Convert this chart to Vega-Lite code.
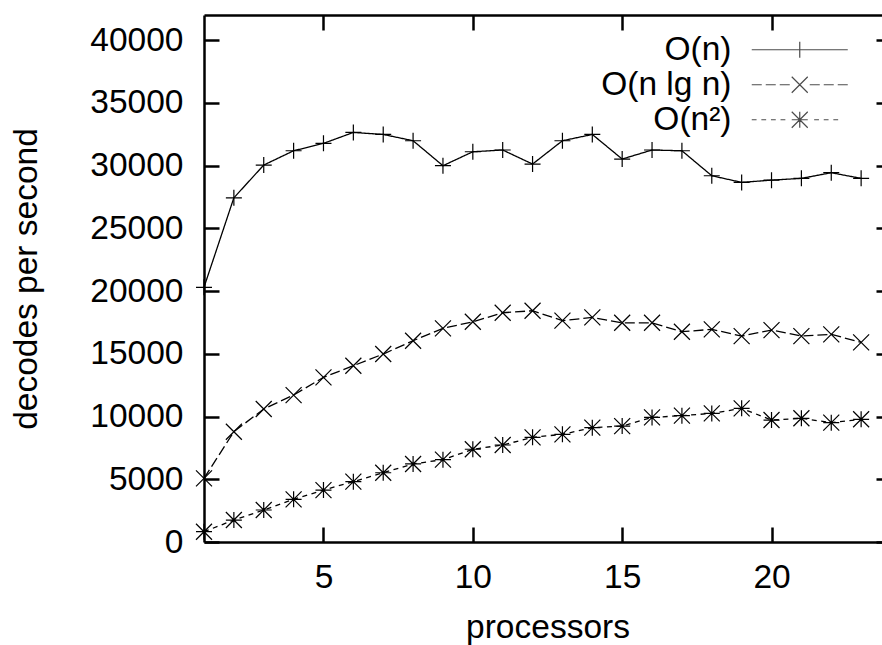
{
  "$schema": "https://vega.github.io/schema/vega-lite/v6.json",
  "autosize": {"type": "none"},
  "width": 678,
  "height": 527,
  "padding": {"left": 204, "top": 15, "right": 0, "bottom": 103},
  "background": "white",
  "config": {
    "view": {"stroke": null},
    "font": "Liberation Sans",
    "axis": {
      "domainColor": "black",
      "domainWidth": 2.5,
      "tickColor": "black",
      "tickWidth": 2.5,
      "tickSize": -15,
      "grid": false,
      "labelFont": "Liberation Sans",
      "labelFontSize": 33.5,
      "labelColor": "black",
      "titleFont": "Liberation Sans",
      "titleFontSize": 33.5,
      "titleFontWeight": "normal",
      "titleColor": "black"
    },
    "legend": {
      "orient": "none",
      "legendX": 579,
      "legendY": 18,
      "title": null,
      "labelAlign": "right",
      "labelOffset": -85,
      "labelFont": "Liberation Sans",
      "labelFontSize": 33.5,
      "labelColor": "black",
      "labelLimit": 400,
      "symbolSize": 256,
      "symbolStrokeWidth": 1.2,
      "symbolStrokeColor": "black",
      "symbolFillColor": "transparent",
      "rowPadding": 0
    }
  },
  "data": {
    "values": [
      {"p": 1, "s": "O(n)", "v": 20300}, {"p": 2, "s": "O(n)", "v": 27430}, {"p": 3, "s": "O(n)", "v": 30040},
      {"p": 4, "s": "O(n)", "v": 31180}, {"p": 5, "s": "O(n)", "v": 31770}, {"p": 6, "s": "O(n)", "v": 32640},
      {"p": 7, "s": "O(n)", "v": 32480}, {"p": 8, "s": "O(n)", "v": 31980}, {"p": 9, "s": "O(n)", "v": 29990},
      {"p": 10, "s": "O(n)", "v": 31100}, {"p": 11, "s": "O(n)", "v": 31240}, {"p": 12, "s": "O(n)", "v": 30120},
      {"p": 13, "s": "O(n)", "v": 31980}, {"p": 14, "s": "O(n)", "v": 32480}, {"p": 15, "s": "O(n)", "v": 30520},
      {"p": 16, "s": "O(n)", "v": 31240}, {"p": 17, "s": "O(n)", "v": 31180}, {"p": 18, "s": "O(n)", "v": 29190},
      {"p": 19, "s": "O(n)", "v": 28660}, {"p": 20, "s": "O(n)", "v": 28840}, {"p": 21, "s": "O(n)", "v": 28980},
      {"p": 22, "s": "O(n)", "v": 29430}, {"p": 23, "s": "O(n)", "v": 28980},
      {"p": 1, "s": "O(n lg n)", "v": 5070}, {"p": 2, "s": "O(n lg n)", "v": 8790}, {"p": 3, "s": "O(n lg n)", "v": 10600},
      {"p": 4, "s": "O(n lg n)", "v": 11710}, {"p": 5, "s": "O(n lg n)", "v": 13120}, {"p": 6, "s": "O(n lg n)", "v": 14050},
      {"p": 7, "s": "O(n lg n)", "v": 14980}, {"p": 8, "s": "O(n lg n)", "v": 16040}, {"p": 9, "s": "O(n lg n)", "v": 17030},
      {"p": 10, "s": "O(n lg n)", "v": 17550}, {"p": 11, "s": "O(n lg n)", "v": 18270}, {"p": 12, "s": "O(n lg n)", "v": 18430},
      {"p": 13, "s": "O(n lg n)", "v": 17640}, {"p": 14, "s": "O(n lg n)", "v": 17900}, {"p": 15, "s": "O(n lg n)", "v": 17470},
      {"p": 16, "s": "O(n lg n)", "v": 17470}, {"p": 17, "s": "O(n lg n)", "v": 16760}, {"p": 18, "s": "O(n lg n)", "v": 16950},
      {"p": 19, "s": "O(n lg n)", "v": 16410}, {"p": 20, "s": "O(n lg n)", "v": 16890}, {"p": 21, "s": "O(n lg n)", "v": 16410},
      {"p": 22, "s": "O(n lg n)", "v": 16550}, {"p": 23, "s": "O(n lg n)", "v": 15910},
      {"p": 1, "s": "O(n²)", "v": 820}, {"p": 2, "s": "O(n²)", "v": 1750}, {"p": 3, "s": "O(n²)", "v": 2550},
      {"p": 4, "s": "O(n²)", "v": 3400}, {"p": 5, "s": "O(n²)", "v": 4140}, {"p": 6, "s": "O(n²)", "v": 4810},
      {"p": 7, "s": "O(n²)", "v": 5520}, {"p": 8, "s": "O(n²)", "v": 6220}, {"p": 9, "s": "O(n²)", "v": 6560},
      {"p": 10, "s": "O(n²)", "v": 7390}, {"p": 11, "s": "O(n²)", "v": 7730}, {"p": 12, "s": "O(n²)", "v": 8340},
      {"p": 13, "s": "O(n²)", "v": 8580}, {"p": 14, "s": "O(n²)", "v": 9110}, {"p": 15, "s": "O(n²)", "v": 9240},
      {"p": 16, "s": "O(n²)", "v": 9930}, {"p": 17, "s": "O(n²)", "v": 10070}, {"p": 18, "s": "O(n²)", "v": 10250},
      {"p": 19, "s": "O(n²)", "v": 10650}, {"p": 20, "s": "O(n²)", "v": 9720}, {"p": 21, "s": "O(n²)", "v": 9860},
      {"p": 22, "s": "O(n²)", "v": 9510}, {"p": 23, "s": "O(n²)", "v": 9780}
    ]
  },
  "layer": [
    {
      "mark": {"type": "line", "color": "black", "strokeWidth": 1.3},
      "encoding": {
        "x": {"field": "p", "type": "quantitative", "scale": {"domain": [1, 24], "range": [0, 687], "nice": false, "zero": false},
              "axis": {"orient": "bottom", "values": [5, 10, 15, 20], "title": "processors", "labelPadding": 34,
                       "titleX": 343.5, "titleY": 95, "titleBaseline": "alphabetic", "titleAnchor": null, "titleAlign": "center"}},
        "y": {"field": "v", "type": "quantitative", "scale": {"domain": [0, 42000], "nice": false},
              "axis": {"orient": "left", "values": [0, 5000, 10000, 15000, 20000, 25000, 30000, 35000, 40000], "format": "d",
                       "title": "decodes per second", "labelPadding": 36,
                       "titleX": -168, "titleY": 263.5, "titleAngle": -90, "titleBaseline": "alphabetic", "titleAlign": "center", "titleAnchor": null}},
        "strokeDash": {"field": "s", "type": "nominal", "legend": null,
                       "scale": {"domain": ["O(n)", "O(n lg n)", "O(n²)"], "range": [[1, 0], [10, 4], [5, 4.5]]}}
      }
    },
    {
      "mark": {"type": "point", "filled": false, "stroke": "black", "strokeWidth": 1.2, "size": 256, "opacity": 1},
      "encoding": {
        "x": {"field": "p", "type": "quantitative",
              "axis": {"orient": "top", "values": [5, 10, 15, 20], "labels": false, "title": null}},
        "y": {"field": "v", "type": "quantitative",
              "axis": {"orient": "right", "values": [0, 5000, 10000, 15000, 20000, 25000, 30000, 35000, 40000], "labels": false, "title": null, "domain": false, "tickSize": -6}},
        "shape": {"field": "s", "type": "nominal", "legend": null,
                  "scale": {"domain": ["O(n)", "O(n lg n)", "O(n²)"],
                            "range": ["M-1,0L1,0M0,-1L0,1", "M-1,-1L1,1M-1,1L1,-1", "M-1,0L1,0M0,-1L0,1M-1,-1L1,1M-1,1L1,-1"]}}
      }
    },
    {
      "transform": [{"filter": "false"}],
      "mark": {"type": "point", "filled": false, "stroke": "black", "strokeWidth": 1.2, "size": 256},
      "encoding": {
        "x": {"field": "p", "type": "quantitative", "axis": null},
        "y": {"field": "v", "type": "quantitative", "axis": null},
        "shape": {"field": "s", "type": "nominal",
                  "scale": {"domain": ["O(n)", "O(n lg n)", "O(n²)"],
                            "range": [
                              "M-6,0L6,0M0,-1L0,1",
                              "M-6,0L-4.75,0M-4.25,0L-3,0M-2.5,0L-1.25,0M1.25,0L2.5,0M3,0L4.25,0M4.75,0L6,0M-1,-1L1,1M-1,1L1,-1",
                              "M-6,0L-5.4,0M-4.8,0L-4.2,0M-3.6,0L-3,0M-2.4,0L-1.8,0M1.8,0L2.4,0M3,0L3.6,0M4.2,0L4.8,0M-1,0L1,0M0,-1L0,1M-1,-1L1,1M-1,1L1,-1"
                            ]}}
      }
    }
  ],
  "resolve": {"axis": {"x": "independent", "y": "independent"}, "scale": {"shape": "independent"}}
}
